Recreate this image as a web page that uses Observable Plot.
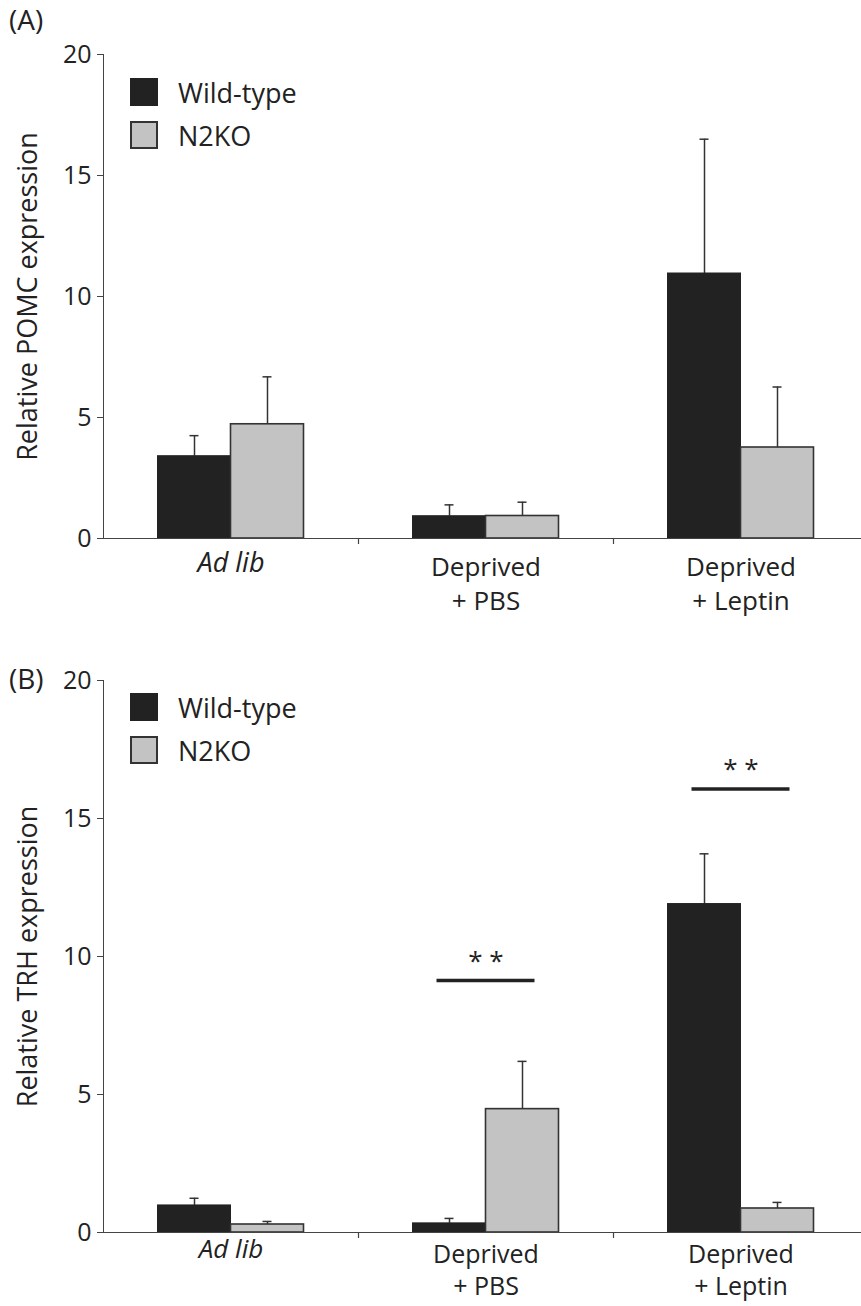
<!DOCTYPE html>
<html>
<head>
<meta charset="utf-8">
<script src="https://cdn.jsdelivr.net/npm/d3@7"></script>
<script src="https://cdn.jsdelivr.net/npm/@observablehq/plot@0.6"></script>
<style>
  html, body { margin: 0; padding: 0; background: #fff; }
  body { width: 861px; font-family: "Open Sans", sans-serif; color: #222; }
  .panel { position: relative; width: 861px; }
  .tag { position: absolute; left: 9px; font-size: 28px; line-height: 28px; color: #222; }
  .legend { position: absolute; left: 130px; }
  .legend .row { display: flex; align-items: center; height: 28px; margin-bottom: 15px; font-size: 27px; color: #222; }
  .legend .sw { width: 28px; height: 28px; box-sizing: border-box; margin-right: 20px; }
</style>
</head>
<body>
<div id="chart"></div>
<script>
// ---- data ----
const categories = ["Ad lib", "Deprived + PBS", "Deprived + Leptin"];
const categoryLabels = ["Ad lib", "Deprived\n+ PBS", "Deprived\n+ Leptin"];
const groups = ["Wild-type", "N2KO"];
const yTicks = [0, 5, 10, 15, 20];

const pomcWT = [3.4, 0.92, 10.95];
const pomcWTErr = [0.85, 0.47, 5.55];
const pomcKO = [4.72, 0.93, 3.76];
const pomcKOErr = [1.96, 0.57, 2.5];

const trhWT = [0.98, 0.33, 11.9];
const trhWTErr = [0.26, 0.18, 1.82];
const trhKO = [0.29, 4.47, 0.87];
const trhKOErr = [0.11, 1.73, 0.22];

const trhSigCats = ["Deprived + PBS", "Deprived + Leptin"];
const trhSigY = [9.13, 16.07];
const sigLabel = "* *";

// ---- styles ----
const FONT = "'Open Sans', sans-serif";
const groupFill = ["#222222", "#c3c3c3"];
const groupStroke = ["#222222", "#333333"];
const W = 861, ML = 103, MR = -7;
const step = (W - ML - MR) / categories.length;
const barW = 73;

function panel({tag, wt, wtErr, ko, koErr, sigCats, sigY, yLabel, height, marginTop, marginBottom, tagTop, legendTop, labelDy, labelLH, labelSize}) {
  const data = categories.flatMap((c, i) => [
    {category: c, group: groups[0], value: wt[i], err: wtErr[i]},
    {category: c, group: groups[1], value: ko[i], err: koErr[i]}
  ]);
  const wtData = data.filter(d => d.group === groups[0]);
  const koData = data.filter(d => d.group === groups[1]);
  const sig = (sigCats || []).map((c, i) => ({category: c, y: sigY[i]}));
  const sideIn = (step - 2 * barW) / 2;
  const capIn = (step - 9) / 2;
  const sigIn = (step - 98) / 2;

  const plot = Plot.plot({
    width: W, height, marginLeft: ML, marginRight: MR, marginTop, marginBottom,
    x: {type: "band", domain: categories, padding: 0, axis: null},
    y: {domain: [0, 20], axis: null},
    color: {domain: groups, range: groupFill},
    style: {fontFamily: FONT, color: "#222", background: "transparent", overflow: "hidden"},
    marks: [
      Plot.frame({anchor: "left", stroke: "#444"}),
      Plot.axisY(yTicks, {tickSize: 6, tickPadding: 6, fontSize: 25, stroke: "#444", fill: "#222", label: null}),
      // error bars
      Plot.ruleX(wtData, {x: "category", y1: "value", y2: d => d.value + d.err, dx: -barW / 2, stroke: "#333", strokeWidth: 1.5}),
      Plot.ruleX(koData, {x: "category", y1: "value", y2: d => d.value + d.err, dx: barW / 2, stroke: "#333", strokeWidth: 1.5}),
      Plot.tickY(wtData, {x: "category", y: d => d.value + d.err, inset: capIn, dx: -barW / 2, stroke: "#333", strokeWidth: 1.5}),
      Plot.tickY(koData, {x: "category", y: d => d.value + d.err, inset: capIn, dx: barW / 2, stroke: "#333", strokeWidth: 1.5}),
      // bars
      Plot.barY(wtData, {x: "category", y: "value", fill: "group", stroke: groupStroke[0], strokeWidth: 1, insetLeft: sideIn, insetRight: step / 2}),
      Plot.barY(koData, {x: "category", y: "value", fill: "group", stroke: groupStroke[1], strokeWidth: 1.6, insetLeft: step / 2, insetRight: sideIn}),
      // x axis line and category boundary ticks
      Plot.ruleY([0], {stroke: "#444", strokeWidth: 1.2}),
      Plot.ruleX(categories.slice(1), {x: d => d, y1: 0, y2: 0, insetBottom: -6, dx: -step / 2, stroke: "#444", strokeWidth: 1.2}),
      // category labels
      Plot.text(categories.slice(0, 1), {x: d => d, text: () => categoryLabels[0], frameAnchor: "bottom", lineAnchor: "top", dy: labelDy, fontSize: labelSize + 1, fontStyle: "italic", fill: "#222"}),
      Plot.text(categories.slice(1), {x: d => d, text: (d, i) => categoryLabels[i + 1], frameAnchor: "bottom", lineAnchor: "top", dy: labelDy, lineHeight: labelLH, fontSize: labelSize, fill: "#222"}),
      // y label
      Plot.text([yLabel], {frameAnchor: "left", textAnchor: "middle", rotate: -90, dx: -75, fontSize: 27, fill: "#222"}),
      // significance
      Plot.tickY(sig, {x: "category", y: "y", inset: sigIn, stroke: "#222", strokeWidth: 3.5}),
      Plot.text(sig, {x: "category", y: "y", text: () => sigLabel, dy: -19, fontSize: 26, fill: "#222"})
    ]
  });

  const div = document.createElement("div");
  div.className = "panel";
  div.appendChild(plot);
  const t = document.createElement("div");
  t.className = "tag";
  t.style.top = tagTop + "px";
  t.textContent = tag;
  div.appendChild(t);
  const lg = document.createElement("div");
  lg.className = "legend";
  lg.style.top = legendTop + "px";
  groups.forEach((g, i) => {
    const row = document.createElement("div");
    row.className = "row";
    const sw = document.createElement("div");
    sw.className = "sw";
    sw.style.background = groupFill[i];
    sw.style.border = "2px solid " + groupStroke[i];
    const lab = document.createElement("span");
    lab.textContent = g;
    row.appendChild(sw);
    row.appendChild(lab);
    lg.appendChild(row);
  });
  div.appendChild(lg);
  return div;
}

const root = document.getElementById("chart");
root.appendChild(panel({
  tag: "(A)", wt: pomcWT, wtErr: pomcWTErr, ko: pomcKO, koErr: pomcKOErr,
  yLabel: "Relative POMC expression",
  height: 620, marginTop: 54, marginBottom: 82, tagTop: 5, legendTop: 78, labelDy: 14, labelLH: 1.29, labelSize: 26
}));
root.appendChild(panel({
  tag: "(B)", wt: trhWT, wtErr: trhWTErr, ko: trhKO, koErr: trhKOErr,
  sigCats: trhSigCats, sigY: trhSigY,
  yLabel: "Relative TRH expression",
  height: 686, marginTop: 60, marginBottom: 74, tagTop: 44, legendTop: 73, labelDy: 7, labelLH: 1.3, labelSize: 25
}));
</script>
</body>
</html>
